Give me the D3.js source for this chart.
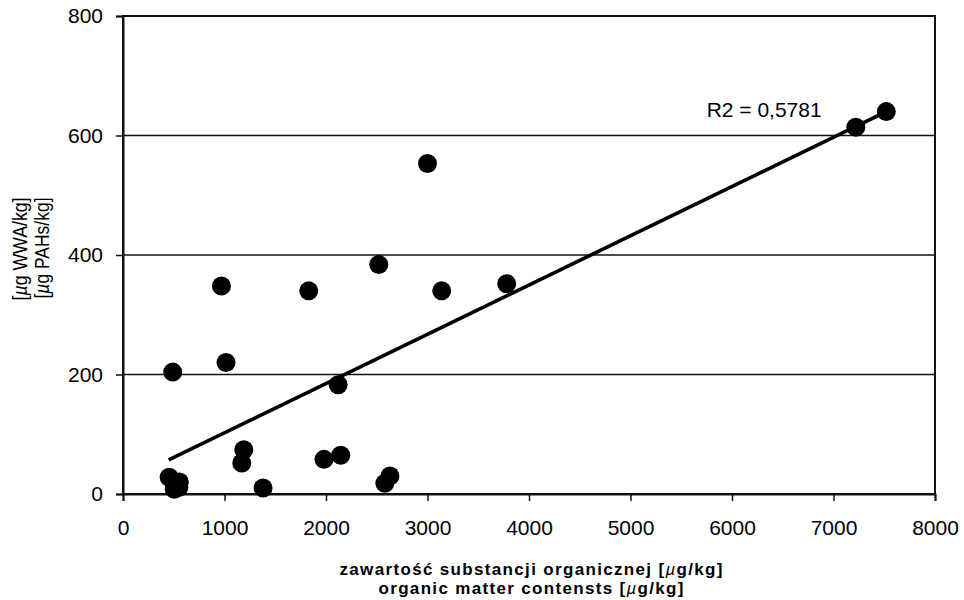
<!DOCTYPE html>
<html>
<head>
<meta charset="utf-8">
<script src="https://cdn.jsdelivr.net/npm/d3@7"></script>
<style>
  body { margin: 0; background: #fff; }
  svg { display: block; }
  text { font-family: 'Liberation Sans', Arial, sans-serif; fill: #000; }
</style>
</head>
<body>
<div id="chart"></div>
<script>
// organic matter [µg/kg] vs PAHs [µg/kg]
const organicMatter = [490, 970, 1015, 455, 555, 505, 550, 1170, 1190, 1380, 1830, 1980, 2120, 2145, 2520, 2580, 2630, 3000, 3140, 3780, 7220, 7520]
const pahs = [204, 348, 220, 28, 20, 8, 11, 52, 74, 10, 340, 58, 183, 65, 384, 18, 30, 553, 340, 352, 614, 640]

// linear trend line ends
const trendX = [450, 7520]
const trendY = [57, 640]

const xTicks = [0, 1000, 2000, 3000, 4000, 5000, 6000, 7000, 8000]
const yTicks = [0, 200, 400, 600, 800]

const r2Label = 'R2 = 0,5781'
const r2At = [5750, 631]

const width = 964
const height = 600
const plot = { left: 123, right: 935, top: 16, bottom: 494 }

const svg = d3.select('#chart')
  .append('svg')
  .attr('width', width)
  .attr('height', height)

const x = d3.scaleLinear().domain([0, 8000]).range([plot.left, plot.right])
const y = d3.scaleLinear().domain([0, 800]).range([plot.bottom, plot.top])

// horizontal grid
svg.append('g')
  .selectAll('line')
  .data(yTicks.slice(1, -1))
  .join('line')
  .attr('x1', plot.left)
  .attr('x2', plot.right)
  .attr('y1', d => y(d))
  .attr('y2', d => y(d))
  .attr('stroke', '#111')
  .attr('stroke-width', 1.5)

// plot frame
svg.append('rect')
  .attr('x', plot.left)
  .attr('y', plot.top)
  .attr('width', plot.right - plot.left)
  .attr('height', plot.bottom - plot.top)
  .attr('fill', 'none')
  .attr('stroke', '#111')
  .attr('stroke-width', 2)

const xAxis = svg.append('g')
  .attr('transform', `translate(0,${plot.bottom})`)
  .call(d3.axisBottom(x).tickValues(xTicks).tickSize(7).tickPadding(19).tickFormat(d3.format('d')))

const yAxis = svg.append('g')
  .attr('transform', `translate(${plot.left},0)`)
  .call(d3.axisLeft(y).tickValues(yTicks).tickSize(7).tickPadding(13).tickFormat(d3.format('d')))

;[xAxis, yAxis].forEach(ax => {
  ax.select('.domain').attr('stroke', '#111').attr('stroke-width', 2)
  ax.selectAll('.tick line').attr('stroke', '#111').attr('stroke-width', 1.5)
  ax.selectAll('.tick text')
    .attr('fill', '#000')
    .attr('style', "font-family: 'Liberation Sans', Arial, sans-serif; font-size: 21px")
})

// trend line
svg.append('line')
  .attr('x1', x(trendX[0]))
  .attr('y1', y(trendY[0]))
  .attr('x2', x(trendX[1]))
  .attr('y2', y(trendY[1]))
  .attr('stroke', '#000')
  .attr('stroke-width', 3.6)

// points
svg.append('g')
  .selectAll('circle')
  .data(d3.range(organicMatter.length))
  .join('circle')
  .attr('cx', i => x(organicMatter[i]))
  .attr('cy', i => y(pahs[i]))
  .attr('r', 9.5)
  .attr('fill', '#000')

svg.append('text')
  .attr('x', x(r2At[0]))
  .attr('y', y(r2At[1]))
  .attr('style', 'font-size: 21px')
  .text(r2Label)

// x title, two lines
const xTitle = svg.append('g')
  .attr('style', 'font-size: 17px; font-weight: bold')

const addMu = (t, before, after) => {
  t.append('tspan').text(before)
  t.append('tspan').attr('font-style', 'italic').attr('font-weight', 'normal').text('µ')
  t.append('tspan').text(after)
}

const xt1 = xTitle.append('text')
  .attr('x', 531).attr('y', 575)
  .attr('text-anchor', 'middle')
  .attr('textLength', 383)
  .attr('lengthAdjust', 'spacing')
addMu(xt1, 'zawartość  substancji  organicznej  [', 'g/kg]')

const xt2 = xTitle.append('text')
  .attr('x', 531).attr('y', 594)
  .attr('text-anchor', 'middle')
  .attr('textLength', 305)
  .attr('lengthAdjust', 'spacing')
addMu(xt2, 'organic  matter  contensts  [', 'g/kg]')

// y title, rotated, two lines
const yTitle = svg.append('g')
  .attr('transform', 'rotate(-90)')
  .attr('style', 'font-size: 20px')

const yt1 = yTitle.append('text')
  .attr('x', -249).attr('y', 27)
  .attr('text-anchor', 'middle')
  .attr('textLength', 103)
  .attr('lengthAdjust', 'spacingAndGlyphs')
addMu(yt1, '[', 'g  WWA/kg]')

const yt2 = yTitle.append('text')
  .attr('x', -248).attr('y', 49)
  .attr('text-anchor', 'middle')
  .attr('textLength', 101)
  .attr('lengthAdjust', 'spacingAndGlyphs')
addMu(yt2, '[', 'g  PAHs/kg]')
</script>
</body>
</html>
